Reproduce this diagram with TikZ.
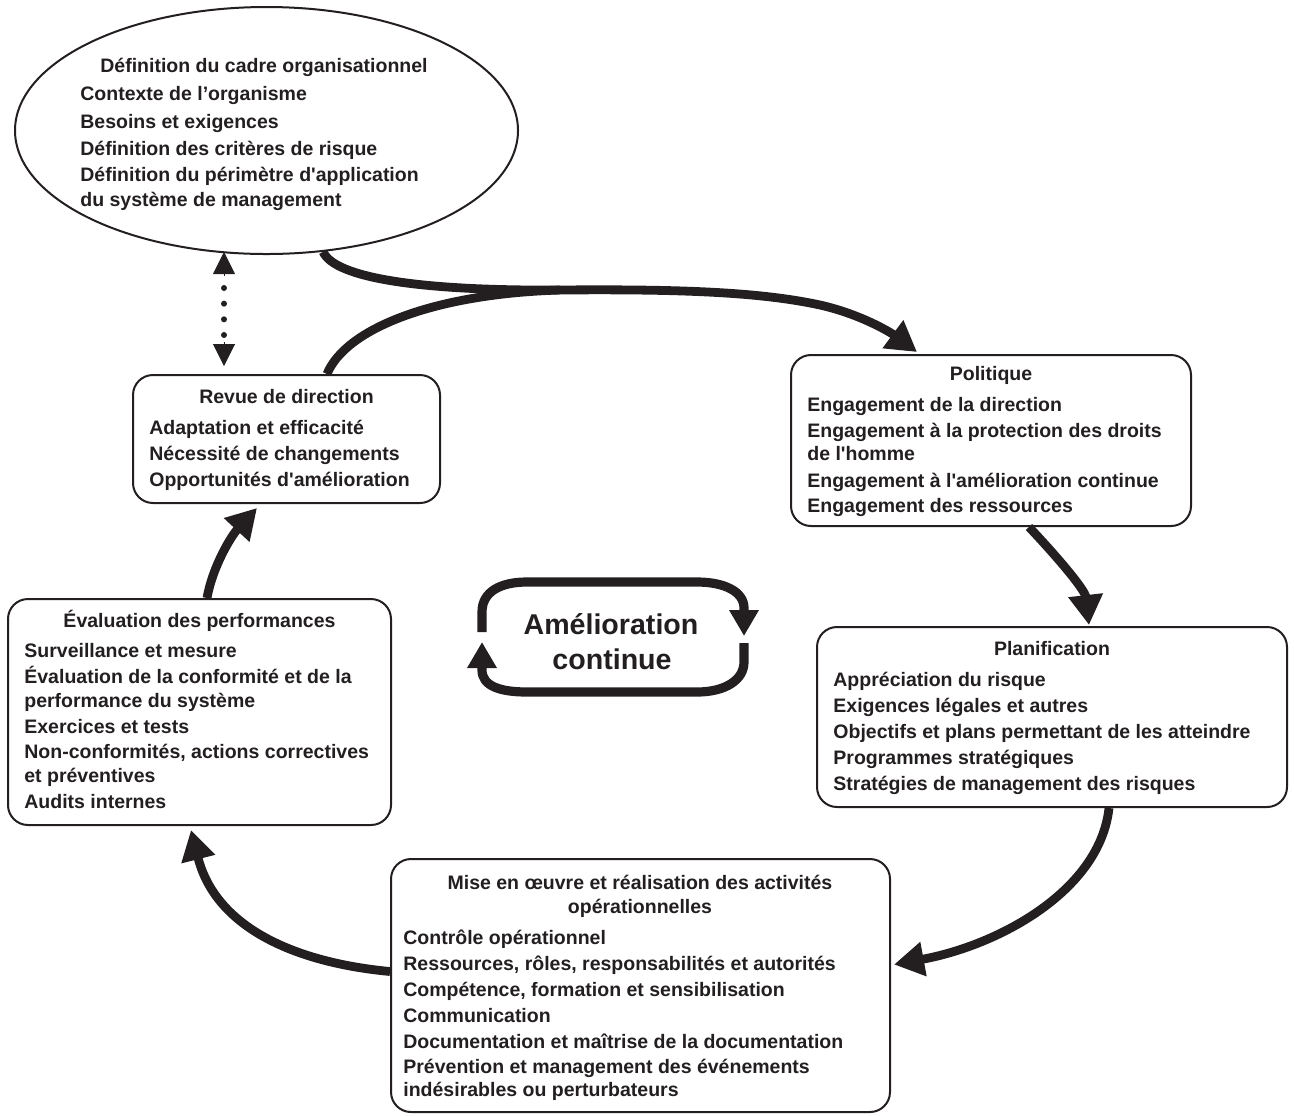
\documentclass[tikz,border=0pt]{standalone}
\usepackage{fontspec}
\newfontfamily\af{Liberation Sans}
\usetikzlibrary{arrows.meta,shapes.geometric,calc}
\definecolor{ink}{HTML}{231F20}
\begin{document}
\begin{tikzpicture}[x=0.5pt,y=-0.5pt,
  txt/.style={font=\af\bfseries\fontsize{9.75}{12}\selectfont,text=ink,inner sep=0pt,anchor=base west},
  ttl/.style={txt,anchor=base},
  big/.style={font=\af\bfseries\fontsize{14.3}{17}\selectfont,text=ink,inner sep=0pt,anchor=base},
  box/.style={draw=ink,line width=1pt,rounded corners=10pt,inner sep=0pt,fill=white},
  thickline/.style={draw=ink,line width=4.4pt},
  flow/.style={thickline,-{Triangle[length=15pt,width=16.5pt]}},
  loopline/.style={draw=ink,line width=4.6pt,-{Triangle[length=13pt,width=14pt]}},
  tinyarrow/.style={draw=ink,line width=0.5pt,-{Triangle[length=11pt,width=11pt]}},
  dots/.style={draw=ink,line width=3pt,line cap=round,dash pattern=on 0pt off 7.83pt}
]
\useasboundingbox (0,0) rectangle (1294,1115);

% shapes
\node[draw=ink,line width=1pt,ellipse,minimum width=251.5pt,minimum height=123.5pt,inner sep=0pt] (cadre) at (266.5,130.5) {};
\node[box,minimum width=153.5pt,minimum height=64pt] (rev) at (286.5,439) {};
\node[box,minimum width=200pt,minimum height=85.5pt] (pol) at (991,440.5) {};
\node[box,minimum width=235pt,minimum height=90pt] (plan) at (1052,717) {};
\node[box,minimum width=249.5pt,minimum height=126.5pt] (mise) at (640.5,985.5) {};
\node[box,minimum width=191.5pt,minimum height=113pt] (eval) at (199.5,712) {};

% titles
\node[ttl] (cadre-t) at (264,72) {Définition du cadre organisationnel};
\node[ttl] (rev-t) at (286.5,403) {Revue de direction};
\node[ttl] (pol-t) at (991,380) {Politique};
\node[ttl] (plan-t) at (1052,655) {Planification};
\node[ttl] (mise-t1) at (640,889) {Mise en œuvre et réalisation des activités};
\node[ttl] (mise-t2) at (640,913) {opérationnelles};
\node[ttl] (eval-t) at (199.5,627) {Évaluation des performances};

% items
\foreach \yy/\lbl [count=\i] in {100/{Contexte de l’organisme},128/{Besoins et exigences},155/{Définition des critères de risque},181/{Définition du périmètre d'application},206/{du système de management}}
  \node[txt] (cadre-\i) at (80,\yy) {\lbl};
\foreach \yy/\lbl [count=\i] in {434/{Adaptation et efficacité},460/{Nécessité de changements},486/{Opportunités d'amélioration}}
  \node[txt] (rev-\i) at (149,\yy) {\lbl};
\foreach \yy/\lbl [count=\i] in {411/{Engagement de la direction},437/{Engagement à la protection des droits},460/{de l'homme},487/{Engagement à l'amélioration continue},512/{Engagement des ressources}}
  \node[txt] (pol-\i) at (807,\yy) {\lbl};
\foreach \yy/\lbl [count=\i] in {686/{Appréciation du risque},712/{Exigences légales et autres},738/{Objectifs et plans permettant de les atteindre},764/{Programmes stratégiques},790/{Stratégies de management des risques}}
  \node[txt] (plan-\i) at (833,\yy) {\lbl};
\foreach \yy/\lbl [count=\i] in {944/{Contrôle opérationnel},970/{Ressources, rôles, responsabilités et autorités},996/{Compétence, formation et sensibilisation},1022/{Communication},1048/{Documentation et maîtrise de la documentation},1073/{Prévention et management des événements},1096/{indésirables ou perturbateurs}}
  \node[txt] (mise-\i) at (403,\yy) {\lbl};
\foreach \yy/\lbl [count=\i] in {657/{Surveillance et mesure},683/{Évaluation de la conformité et de la},707/{performance du système},733/{Exercices et tests},758/{Non-conformités, actions correctives},782/{et préventives},808/{Audits internes}}
  \node[txt] (eval-\i) at (24,\yy) {\lbl};

% main cycle
\draw[flow] (cadre.-65) .. controls (335,278) and (420,291) .. (560,290)
  .. controls (680,289) and (760,292) .. (820,305)
  .. controls (860,314) and (890,332) .. ($(pol.north west)+(127,-2)$);
\draw[thickline] ($(rev.north west)+(195,0)$) .. controls (345,330) and (430,294) .. (560,290);
\draw[flow] ($(pol.south west)+(239,0)$) .. controls (1060,560) and (1085,590) .. ($(plan.north west)+(273,-1)$);
\draw[flow] ($(plan.south west)+(293,0)$) .. controls (1100,890) and (1000,945) .. ($(mise.east)+(3,-21)$);
\draw[flow] ($(mise.west)+(0,-14)$) .. controls (290,962) and (215,925) .. ($(eval.south)+(-8.5,4)$);
\draw[flow] ($(eval.north)+(7.5,0)$) .. controls (213,565) and (232,535) .. ($(rev.south west)+(125,4)$);

% dotted double arrow
\coordinate (dtop) at ($(rev.north west)+(92,-122)$);
\coordinate (dbot) at ($(rev.north west)+(92,-8)$);
\draw[tinyarrow] ($(dtop)+(0,24)$) -- (dtop);
\draw[tinyarrow] ($(dbot)+(0,-24)$) -- (dbot);
\draw[dots] ($(dtop)+(0,36)$) -- ($(dtop)+(0,85)$);

% continuous improvement loop
\node[big] (amel1) at (611,634) {Amélioration};
\node[big] (amel2) at (612,669) {continue};
\draw[loopline] (482,632) -- (482,612) .. controls (482,592) and (500,582) .. (527,582) -- (697,582)
  .. controls (725,582) and (744,592) .. (744,608) -- (744,636);
\draw[loopline] (744,643) -- (744,662) .. controls (744,680) and (725,692) .. (697,692) -- (527,692)
  .. controls (500,692) and (482,686) .. (482,670) -- (482,642);
\end{tikzpicture}
\end{document}
